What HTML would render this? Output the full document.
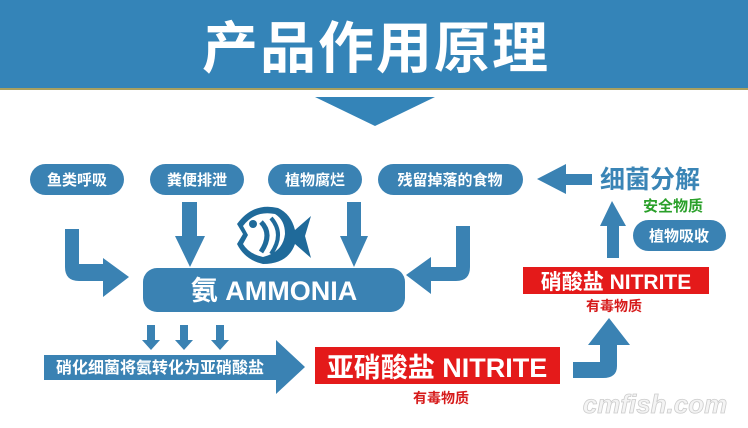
<!DOCTYPE html>
<html><head><meta charset="utf-8"><style>
body{margin:0;width:748px;height:423px;overflow:hidden;background:#fff}
svg text{font-family:"Liberation Sans","Noto Sans CJK SC",sans-serif;font-weight:bold}
</style></head><body>
<svg width="748" height="423" viewBox="0 0 748 423" xmlns="http://www.w3.org/2000/svg">
<rect x="0" y="0" width="748" height="88" fill="#3484b8"/>
<rect x="0" y="88" width="748" height="2" fill="#a8a060"/>
<text x="376" y="68" font-size="56" fill="#fff" text-anchor="middle" letter-spacing="2">产品作用原理</text>
<polygon points="315,97 435,97 375,126" fill="#3484b8"/>

<g fill="#3a82b3">
<rect x="30" y="164" width="94" height="31" rx="15.5"/>
<rect x="150" y="164" width="94" height="31" rx="15.5"/>
<rect x="268" y="164" width="94" height="31" rx="15.5"/>
<rect x="378" y="164" width="145" height="31" rx="15.5"/>
<rect x="633" y="220" width="93" height="31" rx="15.5"/>
<rect x="143" y="268" width="262" height="44" rx="14"/>
<!-- arrows -->
<polygon points="537,179 566,164 566,174 592,174 592,185 566,185 566,194"/>
<polygon points="182,202 197,202 197,236 205,236 190,267 175,236 182,236"/>
<polygon points="347,202 361,202 361,236 368,236 354,267 340,236 347,236"/>
<path d="M65,229 H79 V264 H103 V258 L129,277 L103,297 V281 H79 Q65,281 65,267 Z"/>
<path d="M456,226 H470 V267 Q470,281 456,281 H431 V294 L406,275 L431,257 V267 H456 Z"/>
<polygon points="600,226 612,201 626,226 619,226 619,258 607,258 607,226"/>
<polygon points="147,325 155,325 155,340 160,340 151,350 142,340 147,340"/>
<polygon points="180,325 188,325 188,340 193,340 184,350 175,340 180,340"/>
<polygon points="216,325 224,325 224,340 229,340 220,350 211,340 216,340"/>
<polygon points="44,355 276,355 276,340 305,367 276,394 276,380 44,380"/>
<path d="M573,362 H600 V345 H588 L609,318 L630,345 H617 V366 Q617,378 603,378 H573 Z"/>
</g>

<g font-size="15" fill="#fff" text-anchor="middle">
<text x="77" y="185">鱼类呼吸</text>
<text x="197" y="185">粪便排泄</text>
<text x="315" y="185">植物腐烂</text>
<text x="450" y="185">残留掉落的食物</text>
<text x="679" y="241">植物吸收</text>
</g>
<text x="274" y="300" font-size="27" fill="#fff" text-anchor="middle">氨 AMMONIA</text>
<text x="160" y="373" font-size="16" fill="#fff" text-anchor="middle">硝化细菌将氨转化为亚硝酸盐</text>

<text x="650" y="188" font-size="25" fill="#3a85b6" text-anchor="middle">细菌分解</text>
<text x="673" y="211" font-size="15" fill="#2aa02a" text-anchor="middle">安全物质</text>

<rect x="523" y="267" width="186" height="27" fill="#e41a1a"/>
<text x="616" y="289" font-size="21" fill="#fff" text-anchor="middle">硝酸盐 NITRITE</text>
<text x="614" y="311" font-size="14" fill="#d61a1a" text-anchor="middle">有毒物质</text>

<rect x="315" y="347" width="245" height="37" fill="#e41a1a"/>
<text x="437" y="377" font-size="27" fill="#fff" text-anchor="middle">亚硝酸盐 NITRITE</text>
<text x="441" y="403" font-size="14" fill="#d61a1a" text-anchor="middle">有毒物质</text>

<!-- fish -->
<g transform="translate(233,202)">
<path d="M4,22 Q20,0 45,6 Q58,12 62,28 L78,14 L72,34 L78,56 L62,42 Q55,62 30,62 Q12,58 4,42 L10,32 Z" fill="#1f6a9a"/>
<path d="M10,24 Q22,8 42,12 Q52,18 52,32 Q50,50 30,55 Q16,52 10,42 L15,33 Z" fill="#fff"/>
<path d="M28,20 Q40,32 28,50" stroke="#1f6a9a" stroke-width="5" fill="none"/>
<path d="M38,16 Q52,32 38,52" stroke="#1f6a9a" stroke-width="4" fill="none"/>
<circle cx="20" cy="22" r="4" fill="#1f6a9a"/>
</g>
<text x="655" y="413" font-size="26" fill="#f4f4f4" stroke="#ccc" stroke-width="0.8" text-anchor="middle" font-style="italic">cmfish.com</text>
</svg>
</body></html>
